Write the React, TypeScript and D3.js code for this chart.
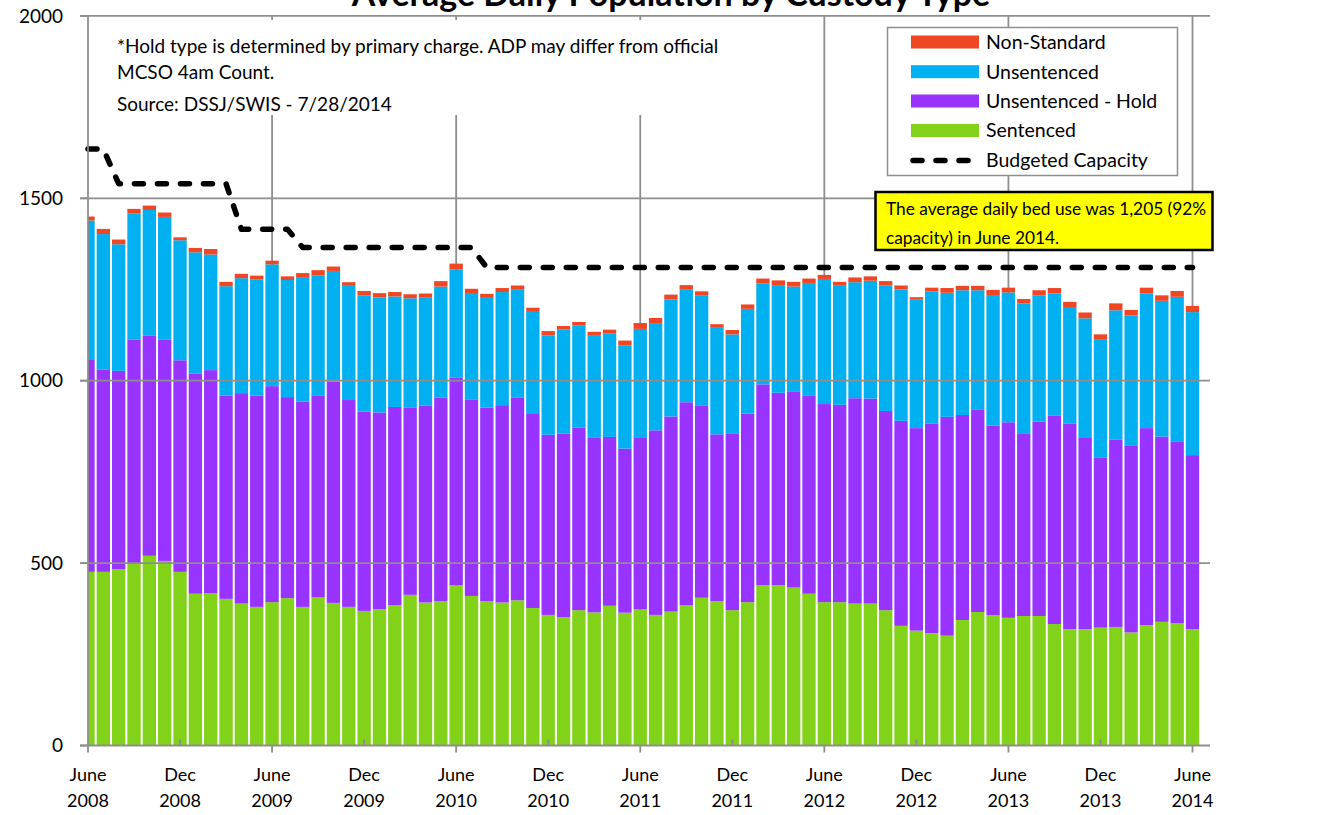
import React from "react";
import * as d3 from "d3";

const sentenced = [476,476,483,499,520,506,476,416,417,402,389,380,393,404,380,406,391,380,369,374,385,413,392,396,439,410,396,392,398,377,358,352,371,365,383,364,373,358,367,385,405,396,371,393,440,440,433,416,393,393,389,389,371,328,315,308,301,344,366,357,350,355,355,333,319,319,323,325,310,330,339,335,319];
const unsentencedHold = [583,555,544,614,603,606,580,604,612,557,577,579,592,551,563,554,607,567,546,539,543,514,540,558,569,539,530,541,555,534,494,503,501,480,463,450,472,506,535,556,526,457,485,517,550,527,538,544,543,541,563,562,546,562,555,575,600,562,554,520,536,501,533,572,564,524,467,513,513,540,508,499,477];
const unsentenced = [380,371,347,345,345,337,329,332,317,300,315,319,334,321,341,329,303,313,319,315,303,299,297,304,297,289,301,310,298,280,272,285,279,278,284,283,297,294,321,310,302,292,271,287,277,295,287,308,343,328,318,323,344,360,352,362,340,342,328,358,356,356,346,334,319,328,324,355,356,369,372,396,392];
const nonStandard = [11,14,13,13,12,12,8,12,15,12,12,10,10,10,11,14,12,10,12,12,12,11,10,15,16,14,11,11,10,9,12,10,10,11,10,13,16,14,13,11,12,10,12,12,13,13,13,12,11,9,13,12,12,11,7,10,13,12,12,14,13,12,14,15,14,16,13,19,15,16,15,16,17];
const budgetedCapacity = [1635,1635,1540,1540,1540,1540,1540,1540,1540,1540,1415,1415,1415,1415,1365,1365,1365,1365,1365,1365,1365,1365,1365,1365,1365,1365,1310,1310,1310,1310,1310,1310,1310,1310,1310,1310,1310,1310,1310,1310,1310,1310,1310,1310,1310,1310,1310,1310,1310,1310,1310,1310,1310,1310,1310,1310,1310,1310,1310,1310,1310,1310,1310,1310,1310,1310,1310,1310,1310,1310,1310,1310,1310];
const months = d3.timeMonth.range(new Date(2008, 5, 1), new Date(2014, 6, 1));
const xTickLabels = [["June","2008"],["Dec","2008"],["June","2009"],["Dec","2009"],["June","2010"],["Dec","2010"],["June","2011"],["Dec","2011"],["June","2012"],["Dec","2012"],["June","2013"],["Dec","2013"],["June","2014"]];
const yTicks = [0, 500, 1000, 1500, 2000];
const seriesKeys = ["sentenced", "hold", "unsentenced", "nonStandard"];
const seriesNames = { nonStandard: "Non-Standard", unsentenced: "Unsentenced", hold: "Unsentenced - Hold", sentenced: "Sentenced" };
const colors = { nonStandard: "#F04624", unsentenced: "#00B0F0", hold: "#9933FF", sentenced: "#82D21A" };

const W = 1335, H = 815;
const left = 88, right = 1210, top = 15.9, bottom = 745.5;
const FONT = "Lato, 'Open Sans', sans-serif";
const GRID = "#8E8E8E";

export default function App() {
  const x = d3.scaleLinear().domain([0, months.length - 1]).range([88, 1192.5]);
  const y = d3.scaleLinear().domain([0, 2000]).range([bottom, top]);
  const step = x(1) - x(0);
  const bw = step * 0.87;
  const rows = months.map((m, i) => ({ i, sentenced: sentenced[i], hold: unsentencedHold[i], unsentenced: unsentenced[i], nonStandard: nonStandard[i] }));
  const stacked = d3.stack().keys(seriesKeys)(rows as any);
  const line = d3.line<number>().x((_, i) => x(i)).y((d) => y(d));
  const legendItems = ["nonStandard", "unsentenced", "hold", "sentenced"];
  const legendY = [42, 71.7, 101, 130.5];
  return (
    <div style={{ position: "absolute", left: 0, top: 0, width: W, height: H, overflow: "hidden" }}>
      <svg width={W} height={H} style={{ display: "block", background: "#fff" }} fontFamily={FONT}>
        <defs>
          <clipPath id="plot"><rect x={left} y={0} width={right - left} height={bottom} /></clipPath>
        </defs>
        {/* vertical gridlines */}
        {xTickLabels.map((_, k) => k % 2 === 0 && k > 0 ? (
          <line key={k} x1={x(k * 6)} x2={x(k * 6)} y1={top} y2={bottom} stroke={GRID} strokeWidth={1.8} />
        ) : null)}
        {/* bars */}
        <g clipPath="url(#plot)">
          {stacked.map((s: any) => (
            <g key={s.key} fill={(colors as any)[s.key]}>
              {s.map((d: any, i: number) => (
                <rect key={i} x={x(i) - bw / 2} width={bw} y={y(d[1])} height={y(d[0]) - y(d[1])} />
              ))}
            </g>
          ))}
        </g>
        {/* horizontal gridlines */}
        {yTicks.map((t) => t > 0 ? (
          <line key={t} x1={left - 8} x2={right} y1={y(t)} y2={y(t)} stroke={GRID} strokeWidth={1.8} />
        ) : null)}
        {/* capacity line */}
        <path d={line(budgetedCapacity) || ""} fill="none" stroke="#000" strokeWidth={5.5} strokeDasharray="9 14" strokeLinecap="round" strokeLinejoin="round" />
        {/* axes */}
        <line x1={left} x2={left} y1={top} y2={bottom} stroke={GRID} strokeWidth={1.8} />
        <line x1={left - 8} x2={right} y1={bottom} y2={bottom} stroke={GRID} strokeWidth={1.8} />
        {yTicks.map((t) => (
          <g key={t}>
            <line x1={left - 8} x2={left} y1={y(t)} y2={y(t)} stroke={GRID} strokeWidth={1.8} />
            <text x={63} y={y(t)} dy="0.35em" textAnchor="end" fontSize={19} fill="#000">{t}</text>
          </g>
        ))}
        {xTickLabels.map((lab, k) => {
          const xx = x(k * 6);
          return (
            <g key={k}>
              {k % 2 === 0 ? (
                <line x1={xx} x2={xx} y1={bottom} y2={bottom + 7} stroke={GRID} strokeWidth={1.8} />
              ) : (
                <line x1={xx} x2={xx} y1={bottom - 6} y2={bottom} stroke={GRID} strokeWidth={1.8} />
              )}
              <text x={xx} y={775} dy="0.35em" textAnchor="middle" fontSize={18} fill="#000">{lab[0]}</text>
              <text x={xx} y={801} dy="0.35em" textAnchor="middle" fontSize={18} fill="#000">{lab[1]}</text>
            </g>
          );
        })}
        {/* note box */}
        <rect x={100} y={20} width={660} height={95} fill="#fff" />
        <text x={117} y={46} dy="0.35em" fontSize={19} fill="#000">*Hold type is determined by primary charge. ADP may differ from official</text>
        <text x={117} y={72} dy="0.35em" fontSize={19} fill="#000">MCSO 4am Count.</text>
        <text x={117} y={104} dy="0.35em" fontSize={19} fill="#000">Source: DSSJ/SWIS - 7/28/2014</text>
        {/* legend */}
        <rect x={887.5} y={27.5} width={290} height={148} fill="#fff" stroke={GRID} strokeWidth={1.5} />
        {legendItems.map((k, j) => (
          <g key={k}>
            <rect x={911} y={legendY[j] - 6.5} width={68} height={13} fill={(colors as any)[k]} />
            <text x={986} y={legendY[j]} dy="0.35em" fontSize={19.5} fill="#000">{(seriesNames as any)[k]}</text>
          </g>
        ))}
        <line x1={913} x2={977} y1={160.5} y2={160.5} stroke="#000" strokeWidth={5.5} strokeDasharray="9 14" strokeLinecap="round" />
        <text x={986} y={160} dy="0.35em" fontSize={19.5} fill="#000">Budgeted Capacity</text>
        {/* annotation */}
        <rect x={875.5} y={192} width={337} height={58} fill="#FFFF00" stroke="#000" strokeWidth={2.5} />
        <text x={886} y={209} dy="0.35em" fontSize={17.3} fill="#000">The average daily bed use was 1,205 (92%</text>
        <text x={886} y={238} dy="0.35em" fontSize={17.3} fill="#000">capacity) in June 2014.</text>
        {/* title */}
        <text x={671} y={6} textAnchor="middle" fontSize={34} fontWeight="bold" fill="#000">Average Daily Population by Custody Type</text>
      </svg>
    </div>
  );
}
